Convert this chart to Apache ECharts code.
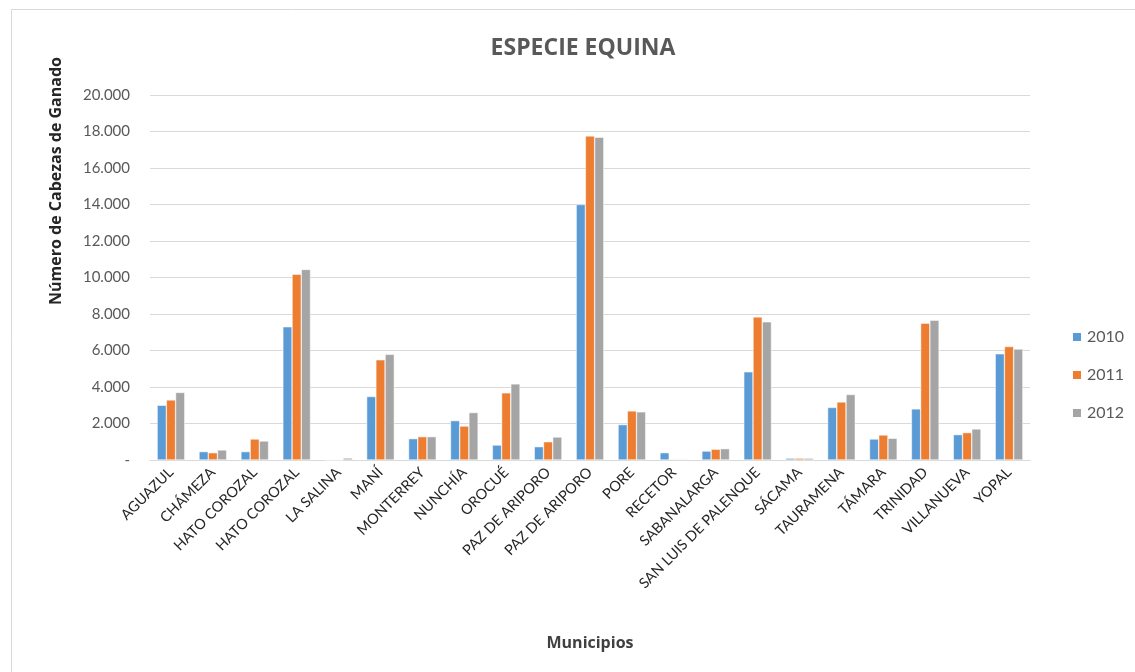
<!DOCTYPE html>
<html>
<head>
<meta charset="utf-8">
<script src="https://cdn.jsdelivr.net/npm/echarts@6/dist/echarts.min.js"></script>
<style>html,body{margin:0;padding:0;background:#fff}#c{width:1135px;height:672px}</style>
</head>
<body>
<div id="c"></div>
<script>
const categories = ['AGUAZUL','CHÁMEZA','HATO COROZAL','HATO COROZAL','LA SALINA','MANÍ','MONTERREY','NUNCHÍA','OROCUÉ','PAZ DE ARIPORO','PAZ DE ARIPORO','PORE','RECETOR','SABANALARGA','SAN LUIS DE PALENQUE','SÁCAMA','TAURAMENA','TÁMARA','TRINIDAD','VILLANUEVA','YOPAL'];
const seriesNames = ['2010','2011','2012'];
const values2010 = [3000,460,460,7300,0,3480,1170,2160,820,730,14000,1940,400,490,4830,100,2880,1150,2800,1390,5820];
const values2011 = [3290,400,1150,10180,0,5490,1280,1860,3680,1000,17760,2690,40,590,7840,100,3180,1370,7500,1500,6220];
const values2012 = [3700,550,1040,10440,110,5790,1280,2600,4170,1260,17690,2640,40,620,7570,100,3590,1190,7660,1700,6080];
const yTicks = [0,2000,4000,6000,8000,10000,12000,14000,16000,18000,20000];

const colors = ['#5B9BD5','#ED7D31','#A5A5A5'];
const font = 'Lato, "Open Sans", sans-serif';
function fmt(v){ if(v===0) return '-'; return String(v).replace(/\B(?=(\d{3})+(?!\d))/g,'.'); }

const chart = echarts.init(document.getElementById('c'));
const data = [values2010, values2011, values2012];
chart.setOption({
  animation:false,
  color: colors,
  title:{text:'ESPECIE EQUINA',left:578,textAlign:'center',top:32,textStyle:{fontFamily:'"Open Sans", sans-serif',fontSize:23,fontWeight:'bold',color:'#595959'}},
  legend:{orient:'vertical',left:1066,top:324,itemWidth:10,itemHeight:10,itemGap:22,icon:'rect',
    textStyle:{fontFamily:font,fontSize:16,color:'#595959'},data:seriesNames},
  grid:{left:150,right:105,top:95,bottom:212,containLabel:false},
  xAxis:{type:'category',data:categories,
    axisLine:{lineStyle:{color:'#d9d9d9',width:1}},axisTick:{show:false},
    axisLabel:{rotate:45,interval:0,fontFamily:font,fontSize:14.5,color:'#262626',margin:10},
    name:'Municipios',nameLocation:'middle',nameGap:175,
    nameTextStyle:{fontFamily:'"Open Sans", sans-serif',fontSize:16,fontWeight:'bold',color:'#404040'}},
  yAxis:{type:'value',min:0,max:20000,interval:2000,
    axisLine:{show:false},axisTick:{show:false},
    splitLine:{lineStyle:{color:'#d9d9d9',width:1}},
    axisLabel:{formatter:fmt,fontFamily:font,fontSize:15,color:'#595959',margin:20}},
  graphic:[
    {type:'text',left:48,top:57,rotation:Math.PI/2,
      style:{text:'Número de Cabezas de Ganado',
      font:'bold 16px "Open Sans", sans-serif',fill:'#262626'}},
    {type:'rect',left:9,top:7,shape:{width:1140,height:680},style:{fill:'none',stroke:'#d9d9d9',lineWidth:1},silent:true}
  ],
  series: seriesNames.map((n,i)=>({name:n,type:'bar',data:data[i],barGap:'0%',barCategoryGap:'34%',
    itemStyle:{borderColor:'#ffffff',borderWidth:0.5}}))
});
</script>
</body>
</html>
